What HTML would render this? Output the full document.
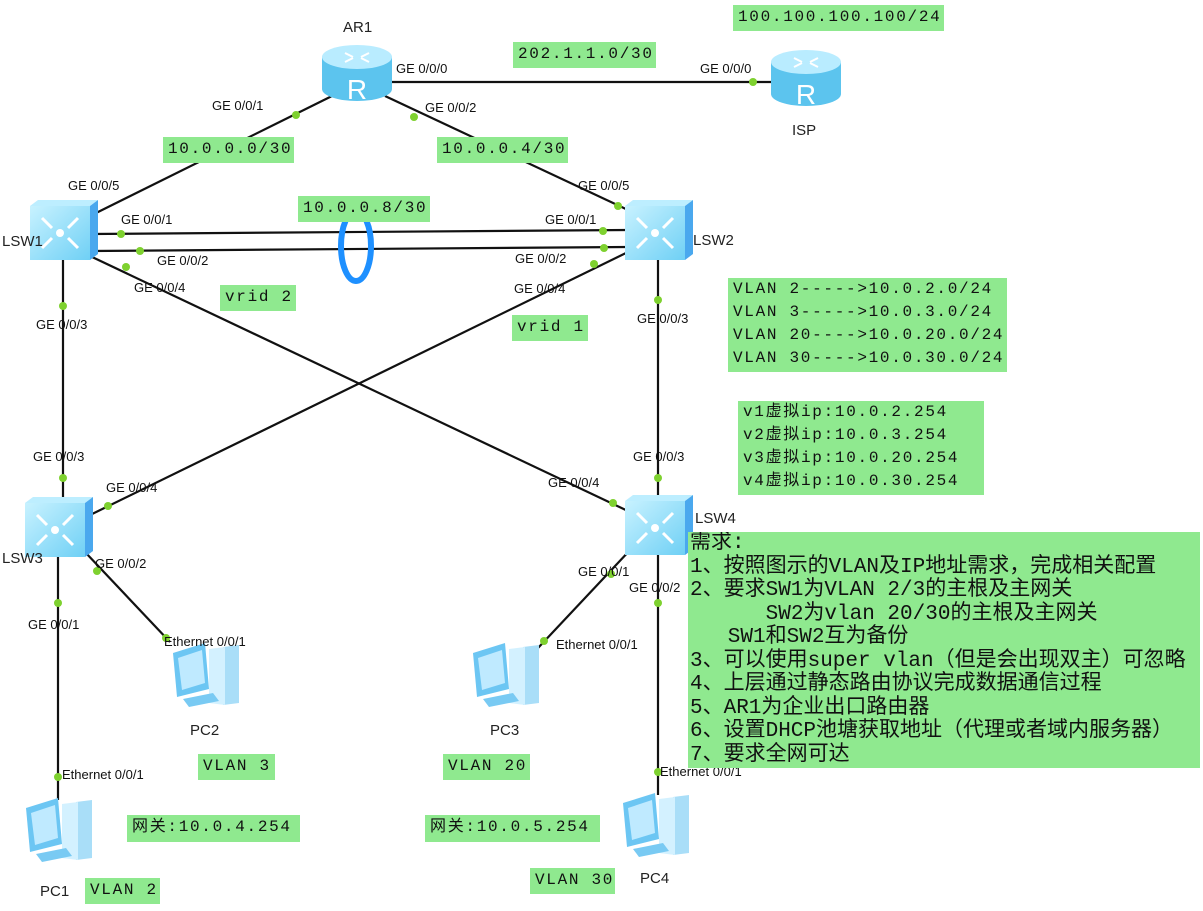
<!DOCTYPE html>
<html><head><meta charset="utf-8"><style>
body{margin:0;width:1203px;height:911px;background:#fff;position:relative;overflow:hidden;font-family:"Liberation Sans","Noto Sans CJK SC",sans-serif}
.g{position:absolute;background:#8fe98f;font-family:"Liberation Mono","Noto Sans CJK SC",monospace;font-size:16px;letter-spacing:1.7px;color:#111;line-height:23px;padding:1px 5px;box-sizing:border-box;white-space:pre}
.p{position:absolute;font-size:13px;color:#111;white-space:nowrap}
.n{position:absolute;font-size:15px;color:#222}
</style></head><body>
<svg width="1203" height="911" style="position:absolute;left:0;top:0">
<defs>
<linearGradient id="sw" x1="0" y1="0" x2="1" y2="1"><stop offset="0" stop-color="#c8f2ff"/><stop offset="1" stop-color="#6fd0f5"/></linearGradient>
<g id="router"><path d="M-35 -18 L-35 14 A35 12 0 0 0 35 14 L35 -18 Z" fill="#5cc4ee"/><ellipse cx="0" cy="-18" rx="35" ry="12" fill="#b9ecff"/><text x="0" y="24" font-size="28" fill="#fff" text-anchor="middle" font-family="Liberation Sans">R</text><path d="M-12 -22 l8 4 M12 -22 l-8 4 M-12 -13 l8 -4 M12 -13 l-8 -4" stroke="#fff" stroke-width="2"/></g>
<g id="switch"><path d="M-30 -24 L-22 -30 L38 -30 L30 -24 Z" fill="#bdeeff"/><path d="M30 -24 L38 -30 L38 24 L30 30 Z" fill="#4aa8ee"/><rect x="-30" y="-24" width="60" height="54" fill="url(#sw)"/><circle cx="0" cy="3" r="4" fill="#fff"/><path d="M-18 -12 l10 10 M18 -12 l-10 10 M-18 18 l10 -10 M18 18 l-10 -10" stroke="#fff" stroke-width="3"/></g>
<g id="pc"><path d="M18 -28 L34 -30 L34 28 L18 30 Z" fill="#a9def8"/><path d="M4 -26 L20 -28 L20 30 L4 28 Z" fill="#d3f1ff"/><path d="M-32 -22 L0 -32 L4 14 L-28 22 Z" fill="#6cc6f3"/><path d="M-27 -17 L-3 -25 L0 8 L-23 15 Z" fill="#bfeaff"/><path d="M-22 24 L8 18 L14 26 L-16 32 Z" fill="#79caf3"/></g>
</defs>
<g stroke="#111" stroke-width="2.2" fill="none">
<line x1="392" y1="82" x2="772" y2="82"/>
<line x1="332" y1="96" x2="90" y2="216"/>
<line x1="385" y1="96" x2="628" y2="210"/>
<line x1="90" y1="234" x2="628" y2="230"/>
<line x1="90" y1="251" x2="628" y2="247"/>
<line x1="90" y1="256" x2="630" y2="512"/>
<line x1="628" y1="252" x2="88" y2="516"/>
<line x1="63" y1="260" x2="63" y2="500"/>
<line x1="658" y1="258" x2="658" y2="500"/>
<line x1="58" y1="550" x2="58" y2="800"/>
<line x1="85" y1="552" x2="170" y2="642"/>
<line x1="632" y1="548" x2="538" y2="648"/>
<line x1="658" y1="555" x2="658" y2="795"/>
</g>
<ellipse cx="356" cy="246" rx="15" ry="35" fill="none" stroke="#1e90ff" stroke-width="6"/>
<g fill="#7ed12f">
<circle cx="753" cy="82" r="4"/><circle cx="296" cy="115" r="4"/><circle cx="86" cy="219" r="4"/>
<circle cx="414" cy="117" r="4"/><circle cx="618" cy="206" r="4"/>
<circle cx="121" cy="234" r="4"/><circle cx="603" cy="231" r="4"/>
<circle cx="140" cy="251" r="4"/><circle cx="604" cy="248" r="4"/>
<circle cx="126" cy="267" r="4"/><circle cx="594" cy="264" r="4"/>
<circle cx="63" cy="306" r="4"/><circle cx="63" cy="478" r="4"/>
<circle cx="658" cy="300" r="4"/><circle cx="658" cy="478" r="4"/>
<circle cx="108" cy="506" r="4"/><circle cx="613" cy="503" r="4"/>
<circle cx="58" cy="603" r="4"/><circle cx="58" cy="777" r="4"/>
<circle cx="97" cy="571" r="4"/><circle cx="166" cy="638" r="4"/>
<circle cx="611" cy="574" r="4"/><circle cx="544" cy="641" r="4"/>
<circle cx="658" cy="603" r="4"/><circle cx="658" cy="772" r="4"/>
</g>
<use href="#router" x="357" y="75"/>
<use href="#router" x="806" y="80"/>
<use href="#switch" x="60" y="230"/>
<use href="#switch" x="655" y="230"/>
<use href="#switch" x="55" y="527"/>
<use href="#switch" x="655" y="525"/>
<use href="#pc" x="58" y="830"/>
<use href="#pc" x="205" y="675"/>
<use href="#pc" x="505" y="675"/>
<use href="#pc" x="655" y="825"/>
</svg>
<div class="n" style="left:343px;top:19px">AR1</div>
<div class="n" style="left:792px;top:122px">ISP</div>
<div class="n" style="left:2px;top:233px">LSW1</div>
<div class="n" style="left:693px;top:232px">LSW2</div>
<div class="n" style="left:2px;top:550px">LSW3</div>
<div class="n" style="left:695px;top:510px">LSW4</div>
<div class="n" style="left:40px;top:883px">PC1</div>
<div class="n" style="left:190px;top:722px">PC2</div>
<div class="n" style="left:490px;top:722px">PC3</div>
<div class="n" style="left:640px;top:870px">PC4</div>

<div class="p" style="left:396px;top:61px">GE 0/0/0</div>
<div class="p" style="left:700px;top:61px">GE 0/0/0</div>
<div class="p" style="left:212px;top:98px">GE 0/0/1</div>
<div class="p" style="left:425px;top:100px">GE 0/0/2</div>
<div class="p" style="left:68px;top:178px">GE 0/0/5</div>
<div class="p" style="left:578px;top:178px">GE 0/0/5</div>
<div class="p" style="left:121px;top:212px">GE 0/0/1</div>
<div class="p" style="left:545px;top:212px">GE 0/0/1</div>
<div class="p" style="left:157px;top:253px">GE 0/0/2</div>
<div class="p" style="left:515px;top:251px">GE 0/0/2</div>
<div class="p" style="left:134px;top:280px">GE 0/0/4</div>
<div class="p" style="left:514px;top:281px">GE 0/0/4</div>
<div class="p" style="left:36px;top:317px">GE 0/0/3</div>
<div class="p" style="left:637px;top:311px">GE 0/0/3</div>
<div class="p" style="left:33px;top:449px">GE 0/0/3</div>
<div class="p" style="left:633px;top:449px">GE 0/0/3</div>
<div class="p" style="left:106px;top:480px">GE 0/0/4</div>
<div class="p" style="left:548px;top:475px">GE 0/0/4</div>
<div class="p" style="left:95px;top:556px">GE 0/0/2</div>
<div class="p" style="left:578px;top:564px">GE 0/0/1</div>
<div class="p" style="left:629px;top:580px">GE 0/0/2</div>
<div class="p" style="left:28px;top:617px">GE 0/0/1</div>
<div class="p" style="left:164px;top:634px">Ethernet 0/0/1</div>
<div class="p" style="left:556px;top:637px">Ethernet 0/0/1</div>
<div class="p" style="left:62px;top:767px">Ethernet 0/0/1</div>
<div class="p" style="left:660px;top:764px">Ethernet 0/0/1</div>

<div class="g" style="left:733px;top:5px;width:211px;height:26px">100.100.100.100/24</div>
<div class="g" style="left:513px;top:42px;width:143px;height:26px">202.1.1.0/30</div>
<div class="g" style="left:163px;top:137px;width:131px;height:26px">10.0.0.0/30</div>
<div class="g" style="left:437px;top:137px;width:131px;height:26px">10.0.0.4/30</div>
<div class="g" style="left:298px;top:196px;width:132px;height:26px">10.0.0.8/30</div>
<div class="g" style="left:220px;top:285px;width:76px;height:26px">vrid 2</div>
<div class="g" style="left:512px;top:315px;width:76px;height:26px">vrid 1</div>
<div class="g" style="left:728px;top:278px;width:279px;height:94px;line-height:23px;padding-top:0">VLAN 2----->10.0.2.0/24
VLAN 3----->10.0.3.0/24
VLAN 20---->10.0.20.0/24
VLAN 30---->10.0.30.0/24</div>
<div class="g" style="left:738px;top:401px;width:246px;height:94px;line-height:23px;padding-top:0">v1虚拟ip:10.0.2.254
v2虚拟ip:10.0.3.254
v3虚拟ip:10.0.20.254
v4虚拟ip:10.0.30.254</div>
<div class="g" style="left:688px;top:532px;width:512px;height:236px;line-height:23.5px;padding:0 0 0 2px;letter-spacing:0;font-size:21px;overflow:hidden">需求:
1、按照图示的VLAN及IP地址需求，完成相关配置
2、要求SW1为VLAN 2/3的主根及主网关
      SW2为vlan 20/30的主根及主网关
   SW1和SW2互为备份
3、可以使用super vlan（但是会出现双主）可忽略
4、上层通过静态路由协议完成数据通信过程
5、AR1为企业出口路由器
6、设置DHCP池塘获取地址（代理或者域内服务器）
7、要求全网可达</div>
<div class="g" style="left:198px;top:754px;width:77px;height:26px">VLAN 3</div>
<div class="g" style="left:443px;top:754px;width:87px;height:26px">VLAN 20</div>
<div class="g" style="left:127px;top:815px;width:173px;height:27px">网关:10.0.4.254</div>
<div class="g" style="left:425px;top:815px;width:175px;height:27px">网关:10.0.5.254</div>
<div class="g" style="left:85px;top:878px;width:75px;height:26px">VLAN 2</div>
<div class="g" style="left:530px;top:868px;width:85px;height:26px">VLAN 30</div>
</body></html>
